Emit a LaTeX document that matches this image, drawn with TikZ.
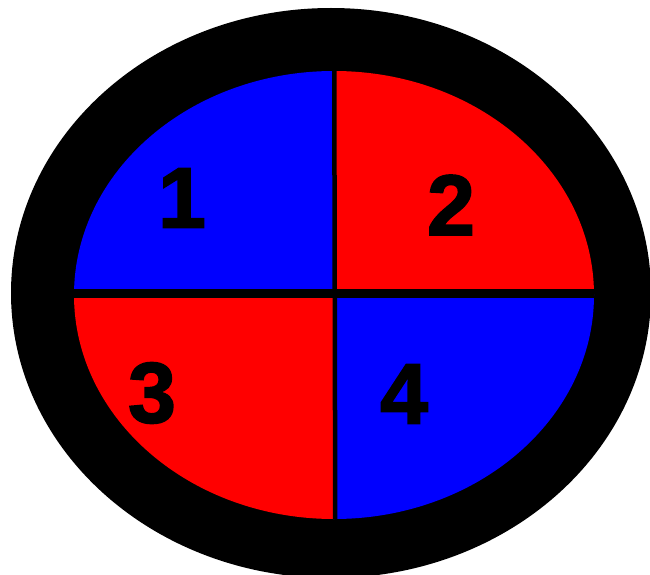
\documentclass[tikz,border=0pt]{standalone}
\usepackage{fontspec}
\setmainfont{Liberation Sans}
\newfontfamily\heavyfont[FakeBold=2]{Liberation Sans Bold}
\tikzset{
  digit/.style={font=\heavyfont\fontsize{86}{86}\selectfont, text=black, inner sep=0pt, anchor=center},
  redq/.style={fill={rgb,255:red,255;green,0;blue,0}},
  blueq/.style={fill={rgb,255:red,0;green,0;blue,255}}
}
\begin{document}
\begin{tikzpicture}[x=1pt,y=-1pt]
\useasboundingbox (0,0) rectangle (650,575);
\clip (0,0) rectangle (650,575);
% outer black ring
\fill[black] (331,293) ellipse [x radius=320, y radius=285];
% inner quadrants
\begin{scope}
\clip (334,295) ellipse [x radius=260, y radius=224];
\fill[blueq] (60,60) rectangle (334,293);
\fill[redq] (334,60) rectangle (610,293);
\fill[redq] (60,293) rectangle (334,530);
\fill[blueq] (334,293) rectangle (610,530);
% dividers
\fill[black] (60,288.5) rectangle (610,298);
\fill[black] (332,60) -- (336.5,60) -- (337.5,530) -- (333,530) -- cycle;
\end{scope}
% labels
\node[digit] (n1) at (182,198) {1};
\node[digit] (n2) at (451,205) {2};
\node[digit] (n3) at (152,393) {3};
\node[digit] (n4) at (404,394) {4};
\end{tikzpicture}
\end{document}
